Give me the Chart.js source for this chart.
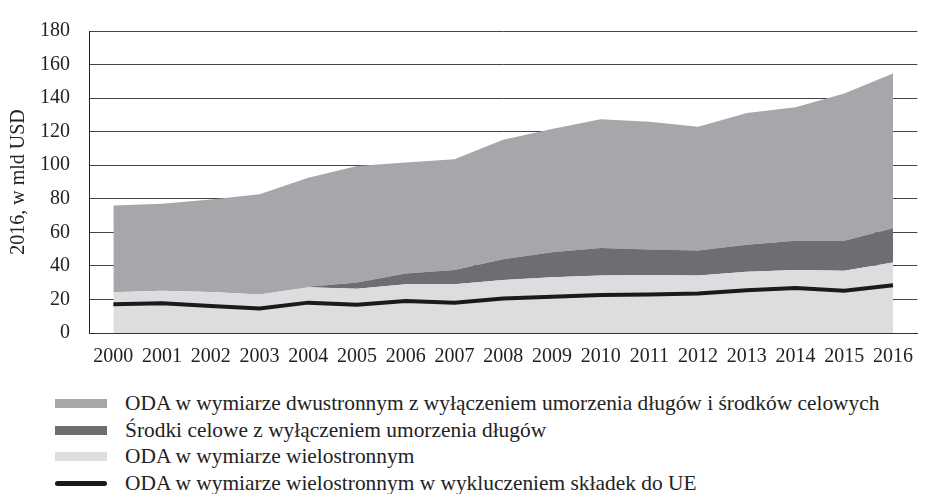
<!DOCTYPE html>
<html>
<head>
<meta charset="utf-8">
<script src="https://cdn.jsdelivr.net/npm/chart.js@4/dist/chart.umd.min.js"></script>
<style>
  body { margin: 0; background: #fff; }
  #wrap { position: relative; width: 925px; height: 494px; font-family: 'Liberation Serif', serif; color: #222; }
  #box { position: absolute; left: 0; top: 0; width: 925px; height: 375px; }
  #legend { position: absolute; left: 55px; top: 390px; }
  .row { display: flex; align-items: center; height: 26.7px; font-size: 21.4px; white-space: nowrap; }
  .sw { width: 52px; height: 9px; margin-right: 18px; }
  .ln { width: 52px; height: 5px; border-radius: 3px; margin-right: 18px; }
</style>
</head>
<body>
<div id="wrap">
  <div id="box"><canvas id="odaChart"></canvas></div>
  <div id="legend"></div>
</div>
<script>
const years = ['2000', '2001', '2002', '2003', '2004', '2005', '2006', '2007', '2008',
               '2009', '2010', '2011', '2012', '2013', '2014', '2015', '2016'];

// ODA w wymiarze wielostronnym (dolna warstwa)
const multilateral = [24.3, 25.2, 24.5, 22.9, 27.2, 26.4, 29.1, 29.1, 31.6, 33.2, 34.2, 34.6, 34.2, 36.5, 37.5, 37.1, 42.0];
// Srodki celowe
const earmarked = [0, 0, 0, 0, 0.3, 3.7, 6.4, 8.4, 12.3, 15.0, 16.5, 15.1, 14.9, 16.1, 17.5, 17.9, 20.4];
// ODA dwustronna bez umorzen i srodkow celowych
const bilateral = [51.7, 51.8, 55.1, 59.8, 65.0, 69.5, 66.1, 66.0, 71.3, 73.4, 76.7, 76.2, 73.9, 78.5, 79.6, 87.8, 92.2];
// wielostronna bez skladek do UE (linia)
const multiNoEU = [17.1, 17.7, 16.1, 14.6, 18.1, 16.9, 19.1, 18.1, 20.6, 21.6, 22.7, 22.9, 23.5, 25.5, 26.8, 25.2, 28.4];

const yTicks = [0, 20, 40, 60, 80, 100, 120, 140, 160, 180];

const labels = [
    'ODA w wymiarze dwustronnym z wyłączeniem umorzenia długów i środków celowych',
    'Środki celowe z wyłączeniem umorzenia długów',
    'ODA w wymiarze wielostronnym',
    'ODA w wymiarze wielostronnym w wykluczeniem składek do UE'
];
const colors = ['#a6a7aa', '#6d6e71', '#dcdddf', '#1a1a1a'];

const fontFam = "'Liberation Serif', serif";

const ctx = document.getElementById('odaChart').getContext('2d');
const odaChart = new Chart(ctx, {
    type: 'line',
    data: {
        labels: years,
        datasets: [
            {
                label: labels[2],
                data: multilateral,
                backgroundColor: colors[2],
                borderWidth: 0,
                pointRadius: 0,
                fill: 'origin',
                stack: 'oda'
            },
            {
                label: labels[1],
                data: earmarked,
                backgroundColor: colors[1],
                borderWidth: 0,
                pointRadius: 0,
                fill: '-1',
                stack: 'oda'
            },
            {
                label: labels[0],
                data: bilateral,
                backgroundColor: colors[0],
                borderWidth: 0,
                pointRadius: 0,
                fill: '-1',
                stack: 'oda'
            },
            {
                label: labels[3],
                data: multiNoEU,
                borderColor: colors[3],
                borderWidth: 4,
                pointRadius: 0,
                fill: false,
                stack: 'eu',
                order: -1
            }
        ]
    },
    options: {
        responsive: true,
        maintainAspectRatio: false,
        animation: false,
        layout: { padding: { top: 14, left: 0, right: 0, bottom: 0 } },
        plugins: {
            legend: { display: false },
            tooltip: { enabled: false }
        },
        scales: {
            x: {
                offset: true,
                grid: { display: false, drawTicks: false },
                border: { color: '#333', width: 1 },
                ticks: {
                    color: '#222',
                    padding: 12,
                    maxRotation: 0,
                    autoSkip: false,
                    font: { family: fontFam, size: 20 }
                },
                afterFit: function(s) { s.height = 42; }
            },
            y: {
                stacked: true,
                min: 0,
                max: 180,
                afterBuildTicks: function(s) { s.ticks = yTicks.map(v => ({ value: v })); },
                grid: { color: '#444', lineWidth: 1, drawTicks: false },
                border: { color: '#222', width: 1 },
                ticks: {
                    color: '#222',
                    padding: 19,
                    font: { family: fontFam, size: 20 }
                },
                title: {
                    display: true,
                    text: '2016, w mld USD',
                    color: '#222',
                    padding: { top: 7, bottom: 0 },
                    font: { family: fontFam, size: 20 }
                },
                afterFit: function(s) { s.width = 89; }
            }
        }
    }
});

// legenda pod wykresem
const legendEl = document.getElementById('legend');
labels.forEach(function(txt, i) {
    const row = document.createElement('div');
    row.className = 'row';
    const sw = document.createElement('div');
    sw.className = i === 3 ? 'ln' : 'sw';
    sw.style.background = colors[i];
    row.appendChild(sw);
    const t = document.createElement('span');
    t.textContent = txt;
    row.appendChild(t);
    legendEl.appendChild(row);
});
</script>
</body>
</html>
